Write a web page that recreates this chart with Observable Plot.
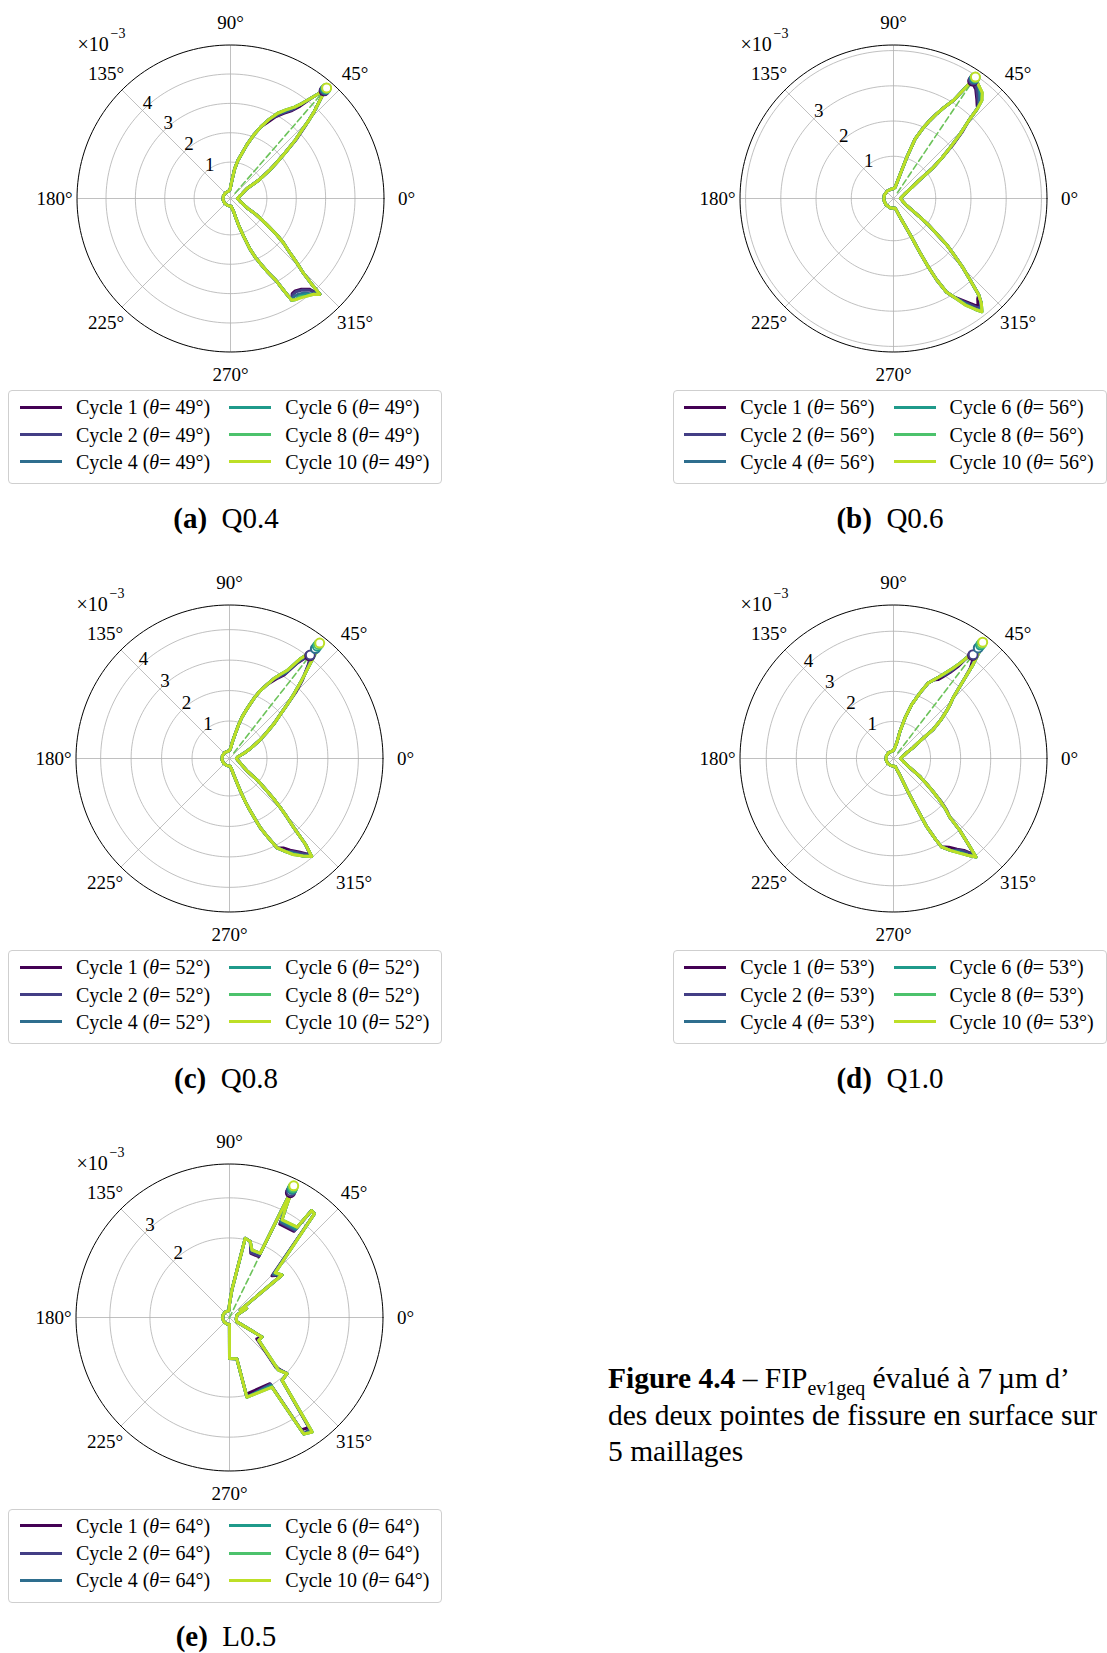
<!DOCTYPE html>
<html>
<head>
<meta charset="utf-8">
<script src="https://cdn.jsdelivr.net/npm/d3@7"></script>
<script src="https://cdn.jsdelivr.net/npm/@observablehq/plot@0.6"></script>
<style>
html,body{margin:0;padding:0;background:#fff;}
#page{position:relative;width:1107px;height:1653px;overflow:hidden;font-family:"Liberation Serif","Times New Roman",serif;color:#000;background:#fff;}
.panel{position:absolute;width:400px;height:380px;}
.legend{position:absolute;box-sizing:border-box;width:434px;height:94px;border:1px solid #cfcfcf;border-radius:4px;background:#fff;}
.entry{position:absolute;height:24px;font-size:20px;line-height:24px;white-space:nowrap;}
.swatch{position:absolute;left:0;top:10.5px;width:42px;height:3px;}
.label{position:absolute;left:56px;top:0;}
.cap{position:absolute;font-size:29px;line-height:34px;white-space:nowrap;transform:translateX(-50%);}
.fig{position:absolute;left:608px;top:1360px;font-size:29.5px;line-height:36.5px;white-space:nowrap;}
.fig sub{font-size:20px;vertical-align:-7px;line-height:0;}
</style>
</head>
<body>
<div id="page"></div>
<script>
// ---------------- DATA ----------------
const cycles = [1, 2, 4, 6, 8, 10];
const legendTheta = [49, 56, 52, 53, 64];
const captionLetters = ["(a)", "(b)", "(c)", "(d)", "(e)"];
const captionNames = ["Q0.4", "Q0.6", "Q0.8", "Q1.0", "L0.5"];
const angleTicks = [0, 45, 90, 135, 180, 225, 270, 315];

// Panel (a) Q0.4 : angle (deg) and FIP (x1e-3) for cycle 10
const thetaA = [-90,-85,-80,-77,-75,-73,-71,-69,-67,-65,-63,-61,-60,-59,-57,-55,-52,-49,-47.5,-47,-46.5,-45.5,-44,-42,-40,-38,-36,-34,-32,-30,-25,-18,-10,0,10,18,25,31,33,36,38,40,42,44,45,46,47,48,49,50,51,53,55,58,61,64,67,70,73,76,79,82,84,87,92,100,130,160,190,220,250,270];
const rA = [0.02,0.03,0.12,0.2,0.4,0.75,1.1,1.6,1.95,2.25,2.6,2.95,3.35,3.8,3.86,3.9,3.98,4.08,4.2,4.22,3.75,3.25,2.88,2.42,2.12,1.75,1.32,1.02,0.78,0.45,0.25,0.13,0.05,0.0,0.05,0.13,0.24,0.42,0.9,1.42,1.78,2.2,2.72,3.2,3.55,3.85,4.1,4.38,4.75,4.42,4.2,3.82,3.56,3.32,3.08,2.76,2.42,2.05,1.68,1.32,1.08,0.78,0.5,0.28,0.08,0.03,0.02,0.02,0.02,0.02,0.02,0.02];
const devA = {
  1: [[-57,3.62],[-55,3.6],[-52,3.68],[-49,3.85],[49,4.62],[53,3.7],[55,3.42],[58,3.18],[61,2.95],[64,2.65],[42,2.8],[44,3.28]],
  2: [[-57,3.66],[-55,3.64],[-52,3.72],[-49,3.9],[49,4.65],[55,3.46],[58,3.22],[61,2.98]],
  4: [[-57,3.74],[-55,3.75],[-52,3.84],[49,4.68],[58,3.26]],
  6: [[-55,3.82],[-52,3.92],[49,4.71]],
  8: [[-55,3.86],[49,4.73]]
};

// Panel (b) Q0.6
const thetaB = [-90,-80,-75,-70,-67,-65,-64,-63,-62,-60.5,-58.5,-56,-53.5,-52,-50,-48.5,-46.5,-45,-43,-41,-39.5,-37,-35,-32,-28,-20,-10,0,10,20,28,33,35,38,40,42,44,46,47,48,50,53,55,56,57,58.5,61,63,65,67,70,72,74,77,82,90,100,130,160,190,220,250,270];
const rB = [0.08,0.08,0.18,0.4,0.65,1.0,1.5,2.0,2.42,2.85,3.08,3.45,3.72,3.88,3.68,3.45,2.92,2.6,2.15,1.8,1.42,1.02,0.72,0.42,0.22,0.1,0.04,0.0,0.04,0.12,0.28,0.5,0.65,1.24,1.6,1.97,2.42,2.88,3.3,3.55,3.72,3.82,3.9,3.96,3.55,3.07,2.75,2.5,2.25,2.0,1.6,1.05,0.6,0.3,0.12,0.08,0.08,0.08,0.08,0.08,0.08,0.08,0.08];
const devB = {
  1: [[48,3.35],[50,3.48],[53,3.68],[55,3.75],[56,3.82],[-56,3.28],[-53.5,3.52],[-52,3.7],[-50,3.52],[42,2.05],[44,2.5]],
  2: [[48,3.4],[50,3.52],[53,3.72],[55,3.8],[56,3.86],[-56,3.32],[-53.5,3.58],[-52,3.76]],
  4: [[48,3.45],[50,3.6],[55,3.86],[56,3.9],[-56,3.38],[-52,3.82]],
  6: [[50,3.66],[56,3.93],[-56,3.42]],
  8: [[56,3.95]]
};

// Panel (c) Q0.8
const thetaC = [-90,-85,-80,-76,-73,-71.5,-70,-68.5,-67,-66,-64,-62,-59,-56.5,-53,-50,-48.5,-47,-45.5,-44,-42.5,-41,-38,-35.5,-30,-25,-18,-10,0,10,16,21,25,28,31,35,38,41,43,45,47,48,50,51,52,53,54.6,56.8,59,61,63,65.6,67.5,69.2,71,73.3,75,77,80,83,87,92,100,130,160,190,220,250,270];
const rC = [0.02,0.03,0.1,0.3,0.6,0.9,1.25,1.6,1.95,2.26,2.65,3.09,3.33,3.55,3.78,3.97,3.54,2.85,2.45,2.1,1.75,1.42,0.95,0.5,0.28,0.18,0.1,0.04,0.0,0.04,0.15,0.32,0.5,0.66,0.92,1.27,1.62,1.99,2.35,2.76,3.2,3.43,3.98,4.34,4.58,4.1,3.79,3.22,2.98,2.76,2.5,2.22,1.95,1.69,1.45,1.18,0.9,0.59,0.33,0.135,0.06,0.03,0.02,0.02,0.02,0.02,0.02,0.02,0.02];
const devC = {
  1: [[50,3.8],[51,3.95],[52,4.05],[53,3.9],[54.6,3.62],[56.8,3.05],[59,2.85],[61,2.66],[45,2.85],[47,3.28],[-56.5,3.38],[-53,3.62],[-59,3.2],[-50,3.9]],
  2: [[50,3.82],[51,3.98],[52,4.08],[53,3.92],[54.6,3.66],[56.8,3.1],[59,2.88],[-56.5,3.42],[-53,3.66],[-50,3.92]],
  4: [[51,4.2],[52,4.35],[56.8,3.15],[-56.5,3.48]],
  6: [[52,4.45],[-56.5,3.52]],
  8: [[52,4.52]]
};

// Panel (d) Q1.0
const thetaD = [-90,-85,-77,-72,-69,-66.5,-65,-64,-62.5,-61.5,-58,-55,-52.5,-50,-48.8,-47.3,-46.2,-44,-42.2,-40,-37.6,-34.5,-31.7,-27,-20,-10,0,10,18,24,29,33.5,36.3,39,41.8,43.5,45.5,48,49.7,51.2,52.5,53.8,55,56.6,58.5,60.6,63,65.3,68,71.4,74.1,76.5,78.2,82,87,92,100,130,160,190,220,250,270];
const rD = [0.02,0.03,0.05,0.2,0.35,0.95,1.6,2.3,2.8,3.11,3.38,3.61,3.82,4.04,3.52,3.01,2.47,2.15,1.85,1.5,1.16,0.85,0.55,0.3,0.15,0.05,0.0,0.05,0.14,0.25,0.5,0.83,1.41,1.78,2.13,2.35,2.59,3.22,3.85,4.33,4.64,3.96,3.65,3.36,3.12,2.9,2.7,2.53,2.12,1.66,1.18,0.71,0.31,0.15,0.07,0.03,0.02,0.02,0.02,0.02,0.02,0.02,0.02];
const devD = {
  1: [[52.5,4.09],[51.2,3.98],[49.7,3.72],[55,3.5],[56.6,3.2],[58.5,2.98],[60.6,2.78],[-55,3.45],[-52.5,3.62],[-58,3.25],[-50,3.95],[-44,2.22],[-42.2,1.92]],
  2: [[52.5,4.12],[51.2,4.0],[56.6,3.25],[58.5,3.02],[-55,3.48],[-52.5,3.66],[-50,3.98]],
  4: [[52.5,4.4],[-55,3.54]],
  6: [[52.5,4.52],[-55,3.58]],
  8: [[52.5,4.58]]
};

// Panel (e) L0.5 (coarse mesh: stepped profile)
const thetaE = [-90.5,-90,-80,-77.7,-58.6,-57.5,-54.2,-50.1,-44.3,-47.1,-38,-30.9,-30.6,-15,0,20,28,34.5,39,44.4,50.7,52.5,53.2,61.7,62.5,64,64.4,71.6,74.7,78.8,85.1,87,90,95,130,160,190,220,250,269.5];
const rE = [0.19,1.04,1.06,2.05,2.05,3.46,3.54,2.06,2.02,1.81,0.94,0.96,0.23,0.19,0.19,0.22,0.5,0.34,1.7,1.61,3.36,3.38,2.83,2.78,2.98,3.67,1.79,1.79,1.98,2.03,0.7,0.5,0.35,0.19,0.19,0.19,0.19,0.19,0.19,0.19];
const devE = {
  1: [[44.4,1.5],[53.2,2.7],[61.7,2.66],[64.4,1.7],[71.6,1.7],[-58.6,1.95],[-77.7,1.97],[-47.1,1.72],[-54.2,3.4],[-57.5,3.34],[-38,0.88],[64,3.48]],
  2: [[44.4,1.53],[53.2,2.73],[61.7,2.7],[64.4,1.72],[71.6,1.72],[-58.6,1.97],[-47.1,1.75],[-54.2,3.44],[64,3.52]],
  4: [[44.4,1.56],[53.2,2.76],[61.7,2.73],[-58.6,2.0],[-47.1,1.77],[-54.2,3.5],[64,3.57]],
  6: [[53.2,2.79],[-58.6,2.02],[64,3.6]],
  8: [[64,3.63]]
};

const ringsA = [1,2,3,4], labelsA = [1,2,3,4];
const ringsB = [1,2,3,4], labelsB = [1,2,3];
const ringsC = [1,2,3,4], labelsC = [1,2,3,4];
const ringsD = [1,2,3,4], labelsD = [1,2,3,4];
const ringsE = [2,3], labelsE = [2,3];

// ---------------- STYLE / LAYOUT ----------------
const cycleColors = ["#440154", "#433e85", "#2e6e8e", "#1f9a8a", "#4cc26c", "#bddf26"];
const dashColor = "#6cc35a";
const R = 153.5, W = 400, H = 380, CX = 200, CY = 190;
const centers = [[229.5,197.7],[893.3,197.7],[229.3,757.7],[893.3,757.7],[229.3,1317.3]];
const legendPos = [[8.3,390],[672.6,390],[8.3,950],[672.6,950],[8.3,1508.5]];
const captionPos = [[226,518],[890,518],[226,1078],[890,1078],[226,1636]];

const panels = [
  {theta: thetaA, r: rA, dev: devA, rings: ringsA, labels: labelsA},
  {theta: thetaB, r: rB, dev: devB, rings: ringsB, labels: labelsB},
  {theta: thetaC, r: rC, dev: devC, rings: ringsC, labels: labelsC},
  {theta: thetaD, r: rD, dev: devD, rings: ringsD, labels: labelsD},
  {theta: thetaE, r: rE, dev: devE, rings: ringsE, labels: labelsE}
];

const page = document.getElementById("page");
const toRad = d => d * Math.PI / 180;

function seriesFor(p, c) {
  const dev = new Map(p.dev[c] || []);
  return p.theta.map((t, j) => ({t, r: dev.has(t) ? dev.get(t) : p.r[j]}));
}

function drawPanel(p, idx) {
  const series = cycles.map(c => seriesFor(p, c));
  const [lo, hi] = d3.extent(series.flat(), d => d.r);
  const rmin = lo - 0.05 * (hi - lo), rmax = hi + 0.05 * (hi - lo);
  const span = rmax - rmin;
  const k = R / span;
  const X = d => (d.r - rmin) * Math.cos(toRad(d.t));
  const Y = d => (d.r - rmin) * Math.sin(toRad(d.t));
  const circle = v => d3.range(0, 362, 2).map(t => ({t, r: v}));
  const marks = [];
  for (const v of p.rings) marks.push(Plot.line(circle(v), {x: X, y: Y, stroke: "#b0b0b0", strokeWidth: 0.8}));
  marks.push(Plot.link(angleTicks, {
    x1: () => 0, y1: () => 0,
    x2: a => span * Math.cos(toRad(a)), y2: a => span * Math.sin(toRad(a)),
    stroke: "#b0b0b0", strokeWidth: 0.8
  }));
  marks.push(Plot.line(circle(rmax), {x: X, y: Y, stroke: "#000", strokeWidth: 1}));
  // dashed direction of max
  const peak10 = d3.greatest(series[series.length - 1], d => d.r);
  marks.push(Plot.line([{t: peak10.t, r: 0}, {t: peak10.t, r: peak10.r}], {x: X, y: Y, stroke: dashColor, strokeWidth: 1.6, strokeDasharray: "6,3.5"}));
  // cycle curves
  series.forEach((s, i) => marks.push(Plot.line(s, {x: X, y: Y, stroke: cycleColors[i], strokeWidth: 3, strokeLinejoin: "round", strokeLinecap: "round"})));
  // peak markers
  series.forEach((s, i) => marks.push(Plot.dot([d3.greatest(s, d => d.r)], {x: X, y: Y, r: 4.5, stroke: cycleColors[i], fill: "white", strokeWidth: 2})));
  // angle labels
  const La = span + 22.5 / k;
  marks.push(Plot.text(angleTicks, {x: a => La * Math.cos(toRad(a)), y: a => La * Math.sin(toRad(a)), text: a => `${a}°`, fontSize: 19}));
  // radial labels
  marks.push(Plot.text(p.labels, {x: v => (v - rmin) * Math.cos(toRad(135)), y: v => (v - rmin) * Math.sin(toRad(135)), text: v => String(v), dx: 5, dy: -8, fontSize: 19}));
  // multiplier
  marks.push(Plot.text(["×10"], {frameAnchor: "top-left", dx: 47, dy: 28, textAnchor: "start", fontSize: 20}));
  marks.push(Plot.text(["−3"], {frameAnchor: "top-left", dx: 80, dy: 20, textAnchor: "start", fontSize: 14}));

  const svg = Plot.plot({
    width: W, height: H, margin: 0,
    x: {domain: [-CX / k, (W - CX) / k], axis: null},
    y: {domain: [-(H - CY) / k, CY / k], axis: null},
    style: {fontFamily: "Liberation Serif, Times New Roman, serif", fontSize: "19px", background: "transparent", overflow: "visible", color: "#000"},
    marks
  });
  const div = document.createElement("div");
  div.className = "panel";
  div.style.left = (centers[idx][0] - CX) + "px";
  div.style.top = (centers[idx][1] - CY) + "px";
  div.appendChild(svg);
  page.appendChild(div);

  // legend
  const lg = document.createElement("div");
  lg.className = "legend";
  lg.style.left = legendPos[idx][0] + "px";
  lg.style.top = legendPos[idx][1] + "px";
  cycles.forEach((c, i) => {
    const col = i < 3 ? 0 : 1, row = i % 3;
    const e = document.createElement("div");
    e.className = "entry";
    e.style.left = (col === 0 ? 10.7 : 220) + "px";
    e.style.top = (4.3 + row * 27.2) + "px";
    e.innerHTML = `<span class="swatch" style="background:${cycleColors[i]}"></span><span class="label">Cycle ${c} (<i>θ</i>=&nbsp;${legendTheta[idx]}°)</span>`;
    lg.appendChild(e);
  });
  page.appendChild(lg);

  // caption
  const cap = document.createElement("div");
  cap.className = "cap";
  cap.style.left = captionPos[idx][0] + "px";
  cap.style.top = (captionPos[idx][1] - 17) + "px";
  cap.innerHTML = `<b>${captionLetters[idx]}</b>&nbsp; ${captionNames[idx]}`;
  page.appendChild(cap);
}

panels.forEach(drawPanel);

const fig = document.createElement("div");
fig.className = "fig";
fig.innerHTML = `<b>Figure 4.4</b> – FIP<sub>ev1geq</sub> évalué à 7&#8239;µm d’<br>des deux pointes de fissure en surface sur<br>5 maillages`;
page.appendChild(fig);
</script>
</body>
</html>
